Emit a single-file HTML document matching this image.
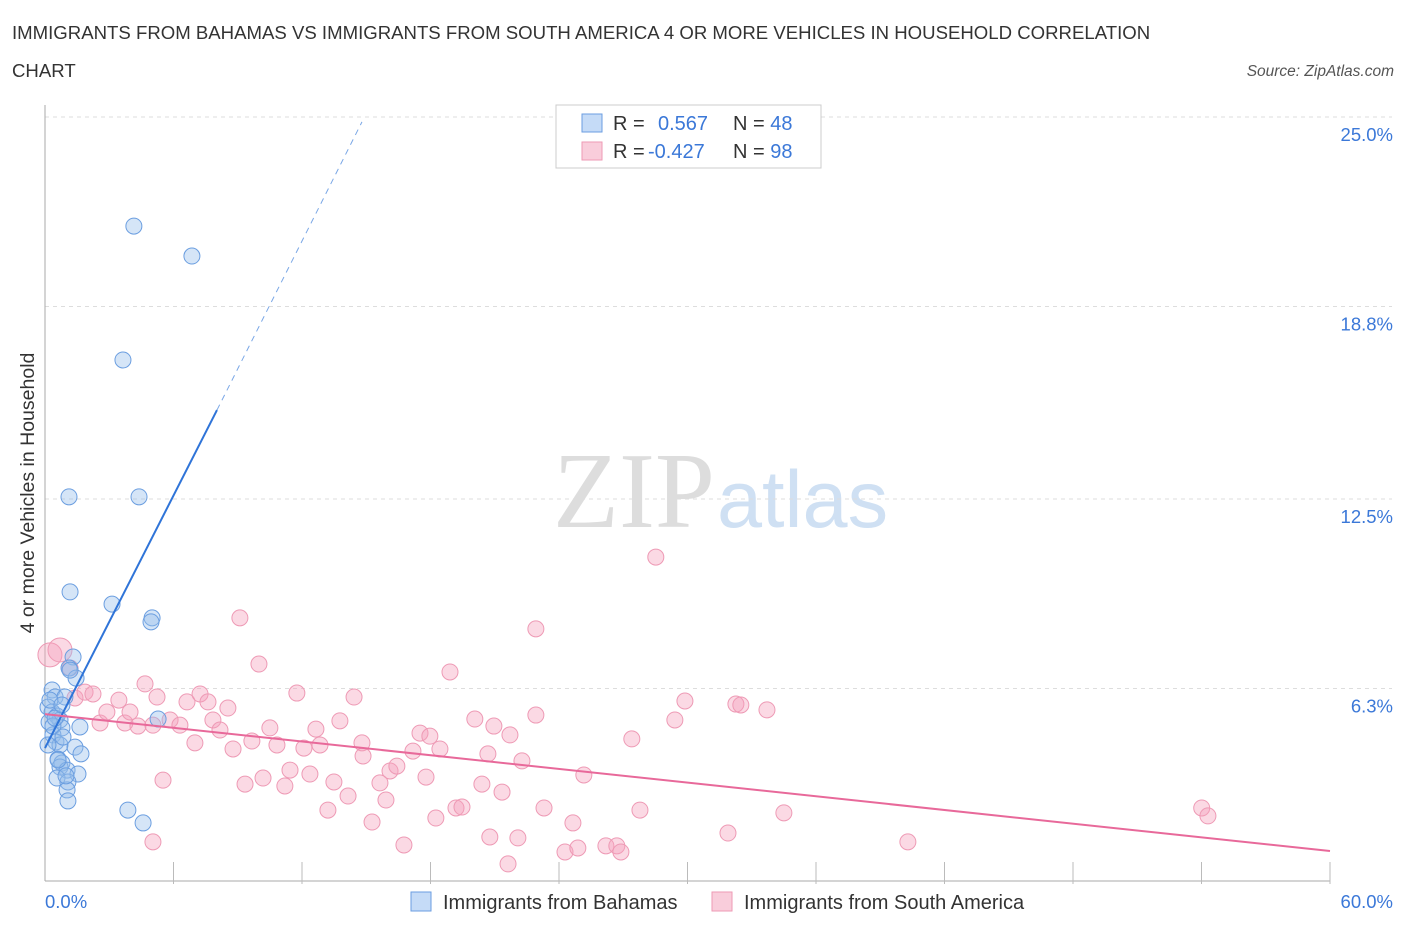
<!DOCTYPE html>
<html><head><meta charset="utf-8">
<style>
body{margin:0;background:#fff;font-family:"Liberation Sans",sans-serif;}
#wrap{position:relative;width:1406px;height:930px;overflow:hidden;}
svg{position:absolute;left:0;top:0;}
</style></head>
<body>
<div id="wrap">
<svg id="chart" width="1406" height="930"></svg>
</div>
<script>
const blueX=[4.15,6.86,3.64,1.12,4.39,1.17,3.13,5.0,4.95,1.31,1.12,1.45,0.33,0.47,0.93,0.14,0.33,0.56,0.70,0.19,1.63,0.79,0.37,0.51,0.70,1.40,1.68,0.61,0.79,0.70,1.03,1.54,0.56,1.07,1.03,1.07,3.87,4.58,5.28,0.23,0.37,0.84,0.61,0.98,0.14,0.47,0.79,1.17];
const blueY=[21.43,20.45,17.05,12.57,12.57,9.46,9.06,8.61,8.48,7.33,6.97,6.64,6.25,6.02,6.02,5.69,5.53,5.40,5.27,5.20,5.04,5.01,4.78,4.55,4.45,4.38,4.16,3.99,3.86,3.73,3.63,3.50,3.37,3.24,2.98,2.62,2.32,1.90,5.30,5.92,5.07,4.71,3.96,3.44,4.45,5.33,5.76,6.90];
const pinkX=[0.23,0.70,1.17,1.40,1.87,2.24,2.57,2.89,3.45,3.73,3.97,4.34,4.67,5.04,5.23,5.51,5.04,5.84,6.30,6.63,7.00,7.24,7.61,7.84,8.17,8.54,8.78,9.10,9.34,9.66,9.99,10.18,10.50,10.83,11.20,11.44,11.76,12.09,12.37,12.65,12.84,13.21,13.49,13.77,14.15,14.43,14.80,14.85,15.27,15.64,15.92,16.11,16.43,16.76,17.18,17.51,17.79,17.97,18.25,18.44,18.91,19.19,19.47,20.07,20.40,20.68,20.77,20.96,21.34,21.62,21.71,22.08,22.27,22.92,22.92,23.30,24.28,24.65,24.88,25.16,26.19,26.70,26.89,27.40,27.78,28.52,29.41,29.88,31.89,32.26,32.49,33.71,34.50,40.29,54.01,54.30];
const pinkY=[7.40,7.56,6.97,5.99,6.18,6.12,5.17,5.53,5.92,5.17,5.53,5.07,6.45,5.10,6.02,3.30,1.28,5.27,5.10,5.86,4.52,6.12,5.86,5.27,4.94,5.66,4.32,8.61,3.17,4.58,7.10,3.37,5.01,4.45,3.11,3.63,6.15,4.35,3.50,4.97,4.45,2.32,3.24,5.24,2.78,6.02,4.52,4.09,1.93,3.21,2.65,3.60,3.76,1.18,4.25,4.84,3.40,4.74,2.06,4.32,6.84,2.39,2.42,5.30,3.17,4.16,1.44,5.07,2.91,0.56,4.78,1.41,3.93,8.25,5.43,2.39,0.95,1.90,1.08,3.47,1.15,1.15,0.95,4.65,2.32,10.60,5.27,5.89,1.57,5.79,5.76,5.60,2.23,1.28,2.39,2.13];
const yTicks=[25.0,18.8,12.5,6.3];
const yTickLabels=["25.0%","18.8%","12.5%","6.3%"];
const blueTrend=[[0,4.35],[8.03,15.41]];
const blueDash=[[8.03,15.41],[14.8,24.84]];
const pinkTrend=[[0,5.46],[60,0.98]];

const X0=45,X1=1330,Y0=881;
const sx=v=>X0+v*(X1-X0)/60;
const sy=v=>Y0-v*30.56;
const svg=document.getElementById('chart');
const NS='http://www.w3.org/2000/svg';
function mk(t,a,p){const e=document.createElementNS(NS,t);for(const k in a)e.setAttribute(k,a[k]);(p||svg).appendChild(e);return e;}

let t=mk('text',{x:12,y:39,'font-size':18.6,fill:'#333'});t.textContent='IMMIGRANTS FROM BAHAMAS VS IMMIGRANTS FROM SOUTH AMERICA 4 OR MORE VEHICLES IN HOUSEHOLD CORRELATION';


t=mk('text',{x:12,y:77,'font-size':18.6,fill:'#333'});t.textContent='CHART';


t=mk('text',{x:1394,y:76,'font-size':15.5,fill:'#555','font-style':'italic','text-anchor':'end'});t.textContent='Source: ZipAtlas.com';



t=mk('text',{x:553,y:527,'font-size':108,fill:'#ddd','font-family':'Liberation Serif,serif'});t.textContent='ZIP';


t=mk('text',{x:717,y:527,'font-size':81,fill:'#cfe0f3'});t.textContent='atlas';



yTicks.forEach((v,i)=>{
 let g=mk('line',{x1:X0,x2:1392,y1:sy(v),y2:sy(v),stroke:'#ddd','stroke-dasharray':'4,4'});
 
 
 let l=mk('text',{x:1393,y:sy(v)+24,'font-size':18.5,fill:'#3b78d8','text-anchor':'end'});l.textContent=yTickLabels[i];
 
 
});
let a=mk('line',{x1:X0,x2:X0,y1:105,y2:Y0,stroke:'#aaa'});


a=mk('line',{x1:X0,x2:X1,y1:Y0,y2:Y0,stroke:'#aaa'});


for(let i=1;i<=10;i++){let k=mk('line',{x1:sx(i*6),x2:sx(i*6),y1:862,y2:884,stroke:'#bbb'});
 
 }
t=mk('text',{x:45,y:908,'font-size':18.5,fill:'#3b78d8'});t.textContent='0.0%';


t=mk('text',{x:1393,y:908,'font-size':18.5,fill:'#3b78d8','text-anchor':'end'});t.textContent='60.0%';


t=mk('text',{x:34,y:493,'font-size':19.5,fill:'#333','text-anchor':'middle',transform:'rotate(-90 34 493)'});t.textContent='4 or more Vehicles in Household';



pinkX.forEach((x,i)=>{let c=mk('circle',{cx:sx(x),cy:sy(pinkY[i]),r:i<2?12:8,fill:'rgba(244,160,188,0.4)',stroke:'#ee9ab5','stroke-width':1});
 
 });
blueX.forEach((x,i)=>{let c=mk('circle',{cx:sx(x),cy:sy(blueY[i]),r:8,fill:'rgba(150,190,235,0.4)',stroke:'#6b9ee0','stroke-width':1});
 
 });

let l=mk('line',{x1:sx(blueTrend[0][0]),y1:sy(blueTrend[0][1]),x2:sx(blueTrend[1][0]),y2:sy(blueTrend[1][1]),stroke:'#2f74d8','stroke-width':2});


l=mk('line',{x1:sx(blueDash[0][0]),y1:sy(blueDash[0][1]),x2:sx(blueDash[1][0]),y2:sy(blueDash[1][1]),stroke:'#7aa7e6','stroke-width':1,'stroke-dasharray':'6,5'});


l=mk('line',{x1:sx(pinkTrend[0][0]),y1:sy(pinkTrend[0][1]),x2:sx(pinkTrend[1][0]),y2:sy(pinkTrend[1][1]),stroke:'#e8699a','stroke-width':2});



let b=mk('rect',{x:556,y:105,width:265,height:63,fill:'#fff',stroke:'#ccc'});


function row(y,fill,stroke,r,n,name){
 let s=mk('rect',{x:582,y:y-9,width:20,height:18,fill:fill,stroke:stroke});
 
 
 let tx=mk('text',{x:613,y:y+7,'font-size':20,fill:'#333'});
 tx.innerHTML='R = <tspan fill="#3b78d8" x="'+(r[0]=='-'?648:658)+'">'+r+'</tspan><tspan x="733">N = </tspan><tspan fill="#3b78d8">'+n+'</tspan>';
 
 
}
row(123,'#c5dbf7','#6b9ee0','0.567','48','bahamas');
row(151,'#f9cddb','#ee9ab5','-0.427','98','south-america');

function leg(x,fill,stroke,label,name){
 let s=mk('rect',{x:x,y:892,width:20,height:19,fill:fill,stroke:stroke});
 
 
 let tx=mk('text',{x:x+32,y:909,'font-size':20,fill:'#333'});tx.textContent=label;
 
 
}
leg(411,'#c5dbf7','#6b9ee0','Immigrants from Bahamas','bahamas');
leg(712,'#f9cddb','#ee9ab5','Immigrants from South America','south-america');
</script>
</body></html>
